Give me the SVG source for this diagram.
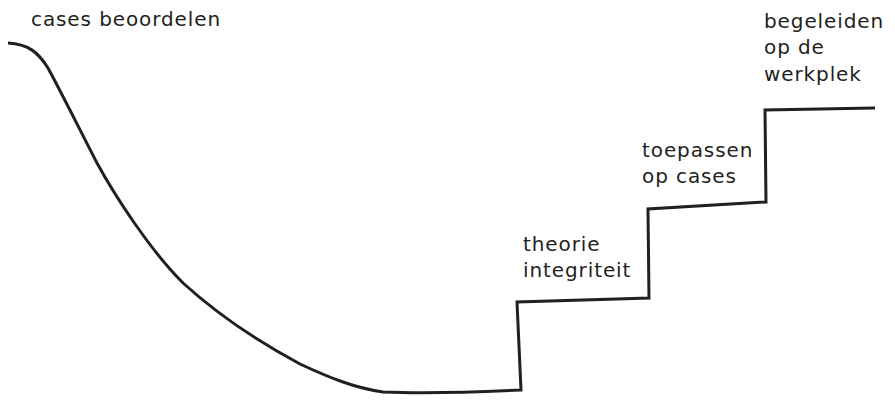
<svg xmlns="http://www.w3.org/2000/svg" width="895" height="400" viewBox="0 0 895 400">
<style>
text{font-family:"DejaVu Sans","Liberation Sans",sans-serif;font-size:20px;letter-spacing:0.9px;fill:#231f20}
.ln{fill:none;stroke:#231f20;stroke-width:3;stroke-linejoin:miter;stroke-linecap:butt}
</style>
<rect width="895" height="400" fill="#fff"/>
<g id="connectors">
<path class="ln" d="M8,43 C28,44 38,52 48,68 C60,90 80,130 97,163 C115,196 150,250 183,283 C215,312 255,340 300,364 C330,378 355,388 383,392 C430,394 480,392 521,390 L517,302 L649,298 L648,209 L766,202 L765,110 L875,108"/>
</g>
<g id="label-cases"><text x="31" y="26">cases beoordelen</text></g>
<g id="label-theorie"><text x="523" y="251">theorie</text><text x="523" y="277">integriteit</text></g>
<g id="label-toepassen"><text x="642" y="157">toepassen</text><text x="642" y="183">op cases</text></g>
<g id="label-begeleiden"><text x="764" y="28">begeleiden</text><text x="764" y="54">op de</text><text x="764" y="81">werkplek</text></g>
</svg>
